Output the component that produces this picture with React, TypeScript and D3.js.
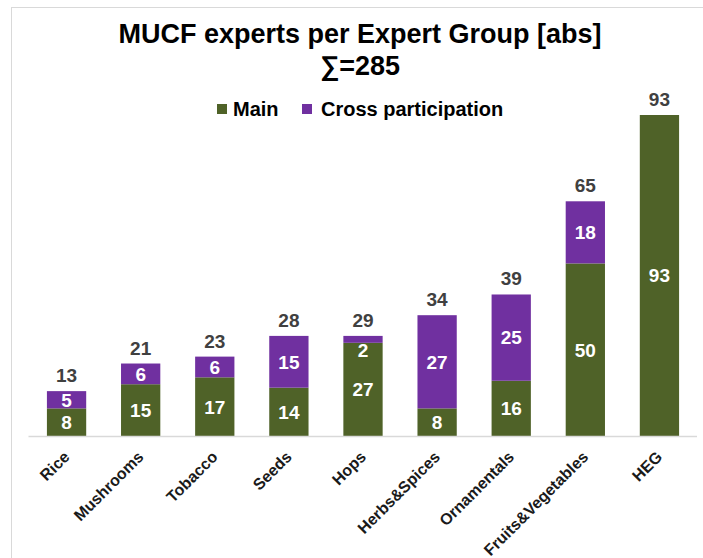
import React from "react";
import * as d3 from "d3";

const categories = ["Rice", "Mushrooms", "Tobacco", "Seeds", "Hops", "Herbs&Spices", "Ornamentals", "Fruits&Vegetables", "HEG"];
const mainValues = [8, 15, 17, 14, 27, 8, 16, 50, 93];
const crossValues = [5, 6, 6, 15, 2, 27, 25, 18, 0];
const totalLabels = [13, 21, 23, 28, 29, 34, 39, 65, 93];
const seriesNames = ["Main", "Cross participation"];
const titleLines = ["MUCF experts per Expert Group [abs]", "\u2211=285"];

const W = 703;
const H = 558;
const FONT = "'Liberation Sans', Arial, sans-serif";
const GREEN = "#4f6228";
const PURPLE = "#7030a0";

export default function App() {
  const x = d3.scaleBand<string>().domain(categories).range([29.5, 696.5]).paddingInner(0.47).paddingOuter(0.235);
  const y = d3.scaleLinear().domain([0, 93]).range([436, 115]);
  const data = categories.map((c, i) => ({ cat: c, main: mainValues[i], cross: crossValues[i], total: totalLabels[i] }));
  const stack = d3.stack<any>().keys(["main", "cross"])(data);
  const colors = [GREEN, PURPLE];

  return (
    <div style={{ position: "absolute", left: 0, top: 0 }}>
      <svg width={W} height={H} style={{ display: "block", fontFamily: FONT }}>
        <rect x={0} y={0} width={W} height={H} fill="#fff" />
        <rect x={11.5} y={7.5} width={W + 10} height={H + 10} fill="none" stroke="#d9d9d9" strokeWidth={1} />
        {titleLines.map((t, i) => (
          <text key={i} x={360} y={43 + i * 32} textAnchor="middle" fontSize={27} fontWeight="bold" fill="#000">
            {t}
          </text>
        ))}
        {/* legend */}
        <g>
          <rect x={217} y={104} width={10} height={10} fill={GREEN} />
          <text x={233} y={116} fontSize={20} fontWeight="bold" fill="#000">{seriesNames[0]}</text>
          <rect x={302} y={104} width={10} height={10} fill={PURPLE} />
          <text x={321} y={116} fontSize={20} fontWeight="bold" fill="#000">{seriesNames[1]}</text>
        </g>
        {stack.map((s, si) => (
          <g key={si}>
            {s.map((d, i) => {
              const top = y(d[1]);
              const bot = y(d[0]);
              const h = bot - top;
              if (h <= 0) return null;
              return <rect key={i} x={x(categories[i])} y={top} width={x.bandwidth()} height={h} fill={colors[si]} />;
            })}
          </g>
        ))}
        {stack.map((s, si) => (
          <g key={"l" + si}>
            {s.map((d, i) => {
              const v = d[1] - d[0];
              if (v <= 0) return null;
              const top = y(d[1]);
              const bot = y(d[0]);
              const h = bot - top;
              const cy = h < 12 ? top + 14 : (top + bot) / 2;
              return (
                <text key={i} x={(x(categories[i]) as number) + x.bandwidth() / 2} y={cy} dy="0.36em" textAnchor="middle" fontSize={19} fontWeight="bold" fill="#fff">
                  {v}
                </text>
              );
            })}
          </g>
        ))}
        {data.map((d, i) => (
          <text key={"t" + i} x={(x(d.cat) as number) + x.bandwidth() / 2} y={y(d.main + d.cross) - 9} textAnchor="middle" fontSize={19} fontWeight="bold" fill="#404040">
            {d.total}
          </text>
        ))}
        <line x1={28.5} x2={697} y1={436.5} y2={436.5} stroke="#d9d9d9" strokeWidth={1.5} />
        {categories.map((c, i) => {
          const cx = (x(c) as number) + x.bandwidth() / 2;
          return (
            <text key={"x" + i} transform={`translate(${cx - 4},${450}) rotate(-45)`} textAnchor="end" dy="0.7em" fontSize={16} fontWeight="bold" fill="#1a1a1a">
              {c}
            </text>
          );
        })}
      </svg>
    </div>
  );
}
